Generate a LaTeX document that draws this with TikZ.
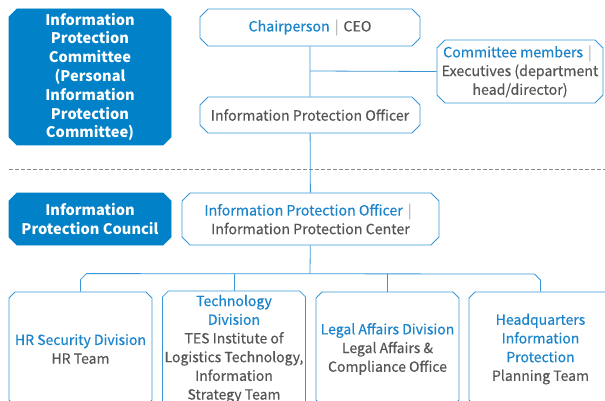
\documentclass[tikz,border=0pt]{standalone}
\usepackage{fontspec}
\setmainfont{Noto Sans CJK KR}[UprightFeatures={FakeBold=0.35}]
\usetikzlibrary{positioning,shapes.misc}
\definecolor{OrgBlue}{HTML}{0081C8}
\definecolor{OrgLine}{HTML}{3A97D6}
\definecolor{OrgText}{HTML}{1A84CC}
\definecolor{OrgGray}{HTML}{555555}
\definecolor{OrgBar}{HTML}{BBBBBB}
\definecolor{OrgDash}{HTML}{8C8C8C}
\newcommand{\orghl}[1]{\textcolor{OrgText}{#1}}
\newcommand{\orgbar}{\textcolor{OrgBar}{\hspace{0.35em}|\hspace{0.35em}}}

\begin{document}
\begin{tikzpicture}[x=1pt,y=-1pt,>=stealth]
  \tikzstyle{unitbox}=[draw=OrgLine,line width=0.8pt,fill=white,
    chamfered rectangle,chamfered rectangle xsep=4pt,
    chamfered rectangle ysep=4pt,inner sep=0pt,
    align=center,text=OrgGray,font=\fontsize{14.2}{18.7}\selectfont]
  \tikzstyle{headbox}=[unitbox,fill=OrgBlue,draw=OrgBlue,text=white,
    font=\bfseries\fontsize{14.6}{18.8}\selectfont]
  \tikzstyle{teambox}=[unitbox,chamfered rectangle xsep=2pt,
    minimum width=143pt,minimum height=114pt,
    font=\fontsize{14}{18.7}\selectfont]
  \tikzstyle{link}=[draw=OrgLine,line width=0.8pt]
  \useasboundingbox (0,0) rectangle (605,401);
  \clip (0,0) rectangle (605,401);
  % committee level
  \node[headbox,minimum width=162pt,minimum height=136pt] (committee) at (90,77)
    {Information\\Protection\\Committee\\(Personal\\Information\\Protection\\Committee)};
  \node[unitbox,minimum width=220pt,minimum height=37pt] (chair) at (310,27.5)
    {\orghl{Chairperson}\orgbar CEO};
  \node[unitbox,minimum width=166pt,minimum height=63pt] (members) at (520,71.5)
    {\orghl{Committee members}\orgbar\\Executives (department\\head/director)};
  \node[unitbox,minimum width=220pt,minimum height=36pt] (cpo) at (310,115)
    {Information Protection Officer};
  \draw[OrgDash,line width=0.8pt,dash pattern=on 4pt off 2pt] (9,169) -- (605,169);
  % council level
  \node[headbox,minimum width=162pt,minimum height=52pt] (council) at (90,219)
    {Information\\Protection Council};
  \node[unitbox,minimum width=257pt,minimum height=52pt] (center) at (310.5,219)
    {\orghl{Information Protection Officer}\orgbar\\Information Protection Center};
  \node[teambox] (hr) at (80.5,349) {\orghl{HR Security Division}\\HR Team};
  \node[teambox] (tech) at (234,349)
    {\orghl{Technology}\\\orghl{Division}\\TES Institute of\\Logistics Technology,\\Information\\Strategy Team};
  \node[teambox] (legal) at (387.5,349)
    {\orghl{Legal Affairs Division}\\Legal Affairs \&\\Compliance Office};
  \node[teambox] (hq) at (540.5,349)
    {\orghl{Headquarters}\\\orghl{Information}\\\orghl{Protection}\\Planning Team};
  % connectors
  \coordinate (tap) at (310,71);
  \coordinate (bus) at (310,274);
  \draw[link] (chair) -- (cpo);
  \draw[link] (tap) -- (members.west);
  \draw[link] (cpo) -- (center);
  \draw[link] (center) -- (bus);
  \draw[link] (hr.north) -- ++(0,-12) -- ++(6,-6) -- ([xshift=-6pt]hq.north |- bus) -- ++(6,6) -- (hq.north);
  \draw[link] (tech.north) -- (tech.north |- bus);
  \draw[link] (legal.north) -- (legal.north |- bus);
\end{tikzpicture}
\end{document}
